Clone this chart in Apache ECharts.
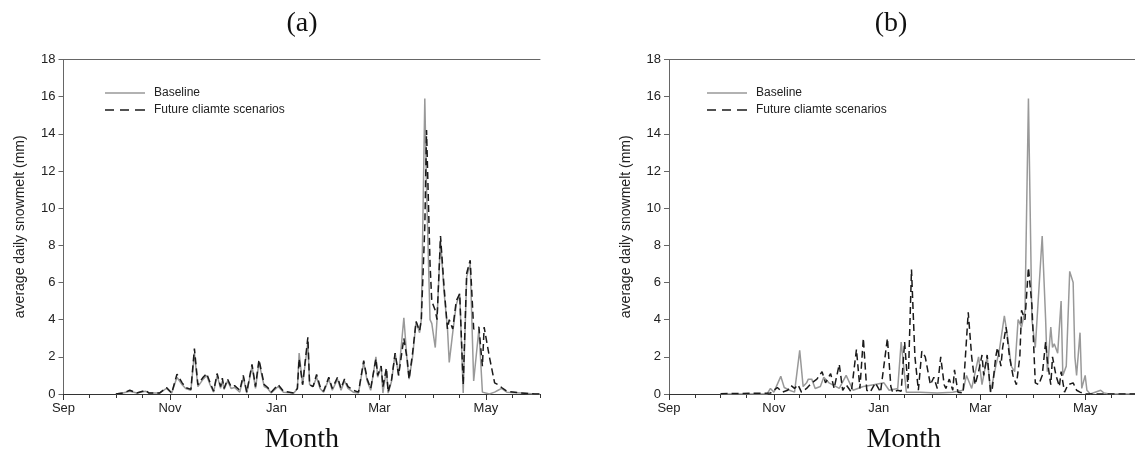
<!DOCTYPE html>
<html>
<head>
<meta charset="utf-8">
<script src="https://cdn.jsdelivr.net/npm/echarts@6/dist/echarts.min.js"></script>
<style>
html,body{margin:0;padding:0;background:#fff;}
#chart{width:1135px;height:455px;}
</style>
</head>
<body>
<div id="chart"></div>
<script>
// x values are days since Sep 1
const monthDays = [0, 61, 122, 181, 242];
const monthLabels = ['Sep', 'Nov', 'Jan', 'Mar', 'May'];
const minorTickDays = [0, 15, 30, 45, 61, 76, 91, 106, 122, 137, 153, 167, 181, 196, 212, 227, 242, 257, 273];
const yTicks = [0, 2, 4, 6, 8, 10, 12, 14, 16, 18];
const seriesNames = ['Baseline', 'Future cliamte scenarios'];

// Panel (a)
const daysA = [30,34,38,42,47,49,55,59,62,65,68,70,73,75,77,80,82,84,86,88,90,91,92,94,96,98,101,103,105,108,110,112,115,117,119,123,126,132,134,135,137,140,141,143,145,147,149,152,154,157,159,161,163,166,169,172,174,176,179,180,182,183,185,186,188,190,192,195,197,198,200,202,204,205,207,208,210,211,213,214,216,218,220,221,223,225,227,229,231,233,235,238,240,241,244,247,249,251,254,262,270,273];
const baseA = [0,0.05,0.15,0.05,0.15,0.05,0.05,0.3,0.05,0.9,0.5,0.3,0.2,2.2,0.4,0.8,1.0,0.5,0.1,1.0,0.3,0.7,0.25,0.7,0.3,0.35,0.1,0.9,0.05,1.5,0.3,1.7,0.4,0.3,0.05,0.4,0.1,0.05,0.3,2.2,0.5,2.8,0.5,0.4,0.9,0.3,0.1,0.8,0.2,0.8,0.2,0.7,0.3,0.1,0.05,1.7,0.7,0.2,2.0,0.9,1.5,0.05,1.3,0.05,0.7,2.2,1.0,4.1,1.6,0.8,2.0,3.9,3.3,4.0,15.9,11.0,4.0,3.8,2.5,4.0,8.3,5.5,3.5,1.7,3.3,4.8,5.4,0.05,6.3,7.0,0.7,3.5,0.1,0,0,0.1,0.2,0.3,0.1,0.05,0,0];
const futA = [0,0.05,0.2,0.05,0.2,0.05,0.05,0.35,0.05,1.07,0.6,0.35,0.25,2.45,0.5,0.9,1.1,0.6,0.15,1.1,0.4,0.85,0.3,0.8,0.4,0.45,0.2,1.0,0.1,1.6,0.4,1.85,0.5,0.35,0.1,0.5,0.15,0.05,0.3,1.9,0.5,3.05,0.5,0.4,1.05,0.4,0.15,0.9,0.3,0.9,0.3,0.8,0.4,0.2,0.1,1.8,0.8,0.3,1.9,1.0,1.5,0.4,1.4,0.1,0.8,2.2,1.0,3.0,1.8,0.8,2.2,3.9,3.4,4.0,9.0,14.2,7.0,5.0,4.5,4.0,8.5,5.8,3.5,4.0,3.5,5.0,5.4,0.5,6.5,7.2,3.5,3.6,1.5,3.6,2.0,0.6,0.5,0.35,0.15,0.05,0,0];

// Panel (b)
const daysBBase = [30,57,59,61,65,67,70,73,76,78,80,81,83,85,88,90,93,95,99,103,107,113,119,125,128,133,135,138,146,156,165,171,173,176,180,182,185,187,190,192,195,197,199,201,203,205,207,209,211,213,217,219,220,222,223,224,226,228,229,231,233,235,236,237,239,240,242,243,245,251,253,256,273];
const baseB = [0,0,0.3,0.1,0.95,0.35,0.2,0.1,2.35,0.4,0.6,0.8,0.8,0.3,0.4,0.9,0.6,0.5,0.3,1.0,0.2,0.4,0.5,0.6,0.2,0.3,2.8,0.1,0.1,0.05,0.1,0.2,1.0,0.3,2.0,0.5,2.0,0.1,1.5,2.3,4.2,3.0,1.5,1.2,4.0,3.6,4.5,15.9,4.0,2.5,8.5,4.0,1.2,3.6,2.5,2.7,2.2,5.0,1.0,1.5,6.6,6.0,2.0,1.0,3.3,0.3,1.0,0.2,0,0.2,0.05,0,0];
const daysBFut = [30,59,63,66,69,71,73,75,77,80,83,86,89,91,94,96,97,99,101,103,106,109,111,113,115,117,120,123,127,129,130,133,135,137,139,141,143,145,147,149,150,152,154,156,158,160,161,163,165,166,168,171,174,176,178,180,182,183,185,187,188,190,191,193,194,196,198,200,202,204,205,207,209,211,213,215,217,219,220,222,223,225,227,228,230,232,235,237,239,242,273];
const futB = [0.02,0.05,0.35,0.1,0.2,0.45,0.3,0.5,0.1,0.3,0.6,0.8,1.2,0.6,1.1,0.3,0.4,1.6,0.2,0.5,0.1,2.4,0.3,3.0,0.2,0.1,0.6,0.1,3.0,0.4,0.1,0.2,0.15,2.8,0.3,6.7,2.0,0.2,2.3,2.0,1.5,0.5,0.9,0.3,2.0,0.5,0.3,0.8,0.2,1.3,0.1,0.05,4.4,2.0,0.5,1.2,2.1,1.0,2.1,0.1,0.3,2.0,2.5,1.5,2.5,3.6,2.0,1.0,0.5,2.0,4.5,4.0,6.8,4.8,0.6,0.5,1.0,2.8,1.8,0.5,2.0,1.0,0.4,1.2,0.1,0.5,0.6,0.2,0.1,0,0];

const pair = (d, v) => d.map((x, i) => [x, v[i]]);

const chart = echarts.init(document.getElementById('chart'), null, {renderer: 'canvas'});

const sansFont = 'Liberation Sans, Arial, sans-serif';
const serifFont = 'Liberation Serif, Times New Roman, serif';

const grids = [
  {left: 63.5, top: 59.5, width: 476.5, height: 334.5, outerBoundsMode: 'none', containLabel: false},
  {left: 669, top: 59.5, width: 469.5, height: 334.5, outerBoundsMode: 'none', containLabel: false}
];

const xAxes = [];
const yAxes = [];
grids.forEach((g, gi) => {
  xAxes.push({
    type: 'value', gridIndex: gi, min: 0, max: 273, position: 'bottom',
    axisLine: {show: true, onZero: false, lineStyle: {color: '#333', width: 1}},
    axisTick: {show: true, customValues: monthDays, length: 6, lineStyle: {color: '#333'}},
    axisLabel: {show: true, customValues: monthDays, margin: 8, fontFamily: sansFont, fontSize: 13, color: '#222',
      formatter: v => monthLabels[monthDays.indexOf(v)] || ''},
    splitLine: {show: false},
    name: 'Month', nameLocation: 'middle', nameGap: 32,
    nameTextStyle: {fontFamily: serifFont, fontSize: 28, color: '#111'}
  });
});
grids.forEach((g, gi) => {
  xAxes.push({
    type: 'value', gridIndex: gi, min: 0, max: 273, position: 'bottom',
    axisLine: {show: false},
    axisTick: {show: true, customValues: minorTickDays, length: 4, lineStyle: {color: '#333'}},
    axisLabel: {show: false},
    splitLine: {show: false}
  });
});
grids.forEach((g, gi) => {
  xAxes.push({
    type: 'value', gridIndex: gi, min: 0, max: 273, position: 'top',
    axisLine: {show: true, onZero: false, lineStyle: {color: '#666', width: 1}},
    axisTick: {show: false}, axisLabel: {show: false}, splitLine: {show: false}
  });
  yAxes.push({
    type: 'value', gridIndex: gi, min: 0, max: 18, interval: 2,
    axisLine: {show: true, onZero: false, lineStyle: {color: '#666', width: 1}},
    axisTick: {show: true, length: 5, lineStyle: {color: '#666'}},
    axisLabel: {show: true, margin: 8, fontFamily: sansFont, fontSize: 13, color: '#222',
      customValues: yTicks},
    splitLine: {show: false},
    name: 'average daily snowmelt (mm)', nameLocation: 'middle', nameGap: 36, nameRotate: 90,
    nameTextStyle: {fontFamily: sansFont, fontSize: 14, color: '#222'}
  });
});

const baseStyle = {color: '#999999', width: 1.5, type: 'solid'};
const futStyle = {color: '#1a1a1a', width: 1.5, type: [7, 4]};

const mk = (name, xi, yi, data, style, z) => ({
  name, type: 'line', xAxisIndex: xi, yAxisIndex: yi, data,
  symbol: 'none', showSymbol: false, smooth: false, z,
  lineStyle: style, itemStyle: {color: style.color}
});

const solidIcon = 'path://M0,0H40V1.5H0Z';
const dashIcon = 'path://M0,0H9V1.5H0Z M15,0H24V1.5H15Z M30,0H40V1.5H30Z';
const legendData = [{name: seriesNames[0], icon: solidIcon}, {name: seriesNames[1], icon: dashIcon}];
const legendBase = {orient: 'vertical', itemWidth: 40, itemHeight: 1.5, itemGap: 5, top: 82,
  textStyle: {fontFamily: sansFont, fontSize: 12, color: '#222', padding: [0, 0, 0, 4]}};

chart.setOption({
  animation: false,
  backgroundColor: '#fff',
  grid: grids,
  xAxis: xAxes,
  yAxis: yAxes,
  legend: [
    Object.assign({data: legendData, left: 100}, legendBase),
    Object.assign({data: legendData, left: 702}, legendBase)
  ],
  graphic: [
    {type: 'text', x: 302, y: 10, style: {text: '(a)', font: '28px ' + serifFont, fill: '#111', textAlign: 'center'}},
    {type: 'text', x: 891, y: 10, style: {text: '(b)', font: '28px ' + serifFont, fill: '#111', textAlign: 'center'}}
  ],
  series: [
    mk(seriesNames[0], 0, 0, pair(daysA, baseA), baseStyle, 2),
    mk(seriesNames[1], 0, 0, pair(daysA, futA), futStyle, 3),
    mk(seriesNames[0], 1, 1, pair(daysBBase, baseB), baseStyle, 2),
    mk(seriesNames[1], 1, 1, pair(daysBFut, futB), futStyle, 3)
  ]
});
</script>
</body>
</html>
